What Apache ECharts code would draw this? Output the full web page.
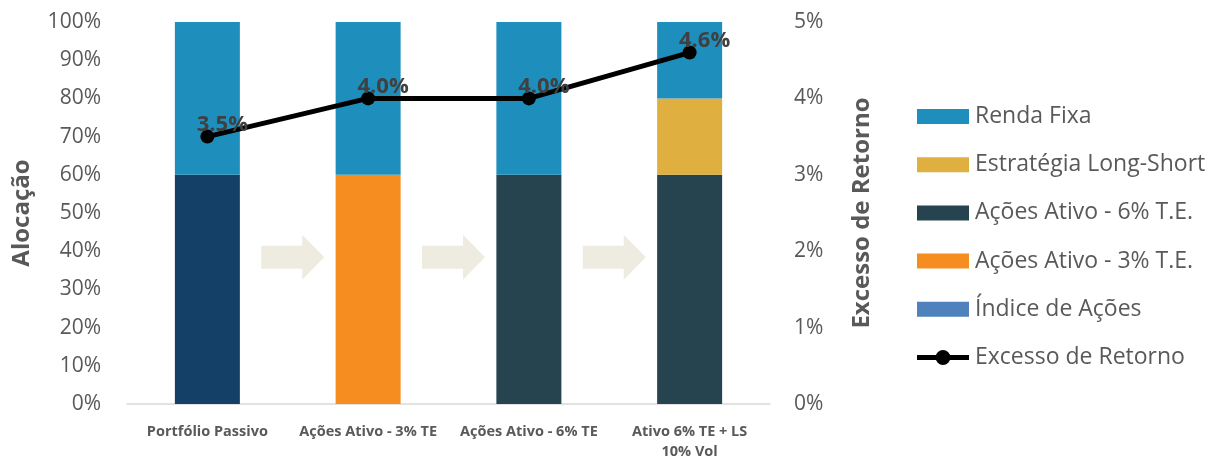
<!DOCTYPE html>
<html>
<head>
<meta charset="utf-8">
<script src="https://cdn.jsdelivr.net/npm/echarts@6/dist/echarts.min.js"></script>
<style>
html,body{margin:0;padding:0;background:#fff;}
#c{width:1214px;height:456px;}
</style>
</head>
<body>
<div id="c"></div>
<script>
const categories = ['Portfólio Passivo', 'Ações Ativo - 3% TE', 'Ações Ativo - 6% TE', 'Ativo 6% TE + LS\n10% Vol'];
const indiceAcoes = [60, 0, 0, 0];
const acoesAtivo3 = [0, 60, 0, 0];
const acoesAtivo6 = [0, 0, 60, 60];
const longShort = [0, 0, 0, 20];
const rendaFixa = [40, 40, 40, 20];
const excessoRetorno = [3.5, 4.0, 4.0, 4.6];
const leftTicks = [0, 10, 20, 30, 40, 50, 60, 70, 80, 90, 100];
const rightTicks = [0, 1, 2, 3, 4, 5];

const FONT = '"Open Sans", "Noto Sans", sans-serif';
const GREY = '#595959';

const chart = echarts.init(document.getElementById('c'));

function barSeries(name, data, color, overrideColor) {
  return {
    name: name,
    type: 'bar',
    stack: 'a',
    barWidth: 65,
    data: data.map(v => overrideColor ? {value: v, itemStyle: {color: overrideColor}} : v),
    itemStyle: {color: color},
    yAxisIndex: 0,
    z: 2
  };
}

const lineIcon = 'path://M0,5 L52,5 L52,10 L0,10 Z M18.5,7.5 A7.5,7.5 0 1,1 33.5,7.5 A7.5,7.5 0 1,1 18.5,7.5 Z';

const option = {
  animation: false,
  backgroundColor: '#fff',
  textStyle: {fontFamily: FONT},
  grid: {left: 127, right: 444, top: 22, bottom: 52, containLabel: false, outerBoundsMode: 'none'},
  xAxis: {
    type: 'category',
    data: categories,
    axisLine: {show: true, lineStyle: {color: '#d9d9d9', width: 1.5}},
    axisTick: {show: false},
    axisLabel: {
      interval: 0, margin: 18, color: GREY, fontWeight: 'bold', fontSize: 14.5,
      fontFamily: FONT, lineHeight: 20
    }
  },
  yAxis: [
    {
      type: 'value', min: 0, max: 100, interval: 10,
      name: 'Alocação', nameLocation: 'middle', nameGap: 93,
      nameTextStyle: {color: GREY, fontSize: 24, fontWeight: 'bold', fontFamily: FONT},
      axisLine: {show: false}, axisTick: {show: false}, splitLine: {show: false},
      axisLabel: {color: GREY, fontSize: 21, margin: 26, fontFamily: FONT, formatter: v => v + '%'}
    },
    {
      type: 'value', min: 0, max: 5, interval: 1, position: 'right',
      name: 'Excesso de Retorno', nameLocation: 'middle', nameGap: 80, nameRotate: 90,
      nameTextStyle: {color: GREY, fontSize: 24, fontWeight: 'bold', fontFamily: FONT},
      axisLine: {show: false}, axisTick: {show: false}, splitLine: {show: false},
      axisLabel: {color: GREY, fontSize: 21, margin: 24, fontFamily: FONT, formatter: v => v + '%'}
    }
  ],
  legend: {
    orient: 'vertical', left: 917, top: 105, padding: 0,
    itemWidth: 52, itemHeight: 15, itemGap: 25.2,
    textStyle: {color: GREY, fontSize: 23, fontFamily: FONT, padding: [0,0,0,1]},
    data: [
      {name: 'Renda Fixa', icon: 'rect'},
      {name: 'Estratégia Long-Short', icon: 'rect'},
      {name: 'Ações Ativo - 6% T.E.', icon: 'rect'},
      {name: 'Ações Ativo - 3% T.E.', icon: 'rect'},
      {name: 'Índice de Ações', icon: 'rect'},
      {name: 'Excesso de Retorno', icon: lineIcon}
    ]
  },
  series: [
    barSeries('Índice de Ações', indiceAcoes, '#4f81bd', '#143f66'),
    barSeries('Ações Ativo - 3% T.E.', acoesAtivo3, '#f68d20'),
    barSeries('Ações Ativo - 6% T.E.', acoesAtivo6, '#264350'),
    barSeries('Estratégia Long-Short', longShort, '#dfb040'),
    barSeries('Renda Fixa', rendaFixa, '#1e8fbd'),
    {
      name: 'arrows',
      type: 'custom',
      yAxisIndex: 0,
      silent: true,
      z: 1,
      data: [[0, 38.4], [1, 38.4], [2, 38.4]],
      renderItem: function (params, api) {
        const a = api.coord([api.value(0), api.value(1)]);
        const b = api.coord([api.value(0) + 1, api.value(1)]);
        const cx = (a[0] + b[0]) / 2 + 5;
        const cy = a[1];
        const w = 63, sh = 23, hh = 45, hl = 22;
        const x0 = cx - w / 2, x1 = cx + w / 2, xh = x1 - hl;
        return {
          type: 'polygon',
          shape: {points: [
            [x0, cy - sh / 2], [xh, cy - sh / 2], [xh, cy - hh / 2], [x1, cy],
            [xh, cy + hh / 2], [xh, cy + sh / 2], [x0, cy + sh / 2]
          ]},
          style: {fill: '#eeece1'}
        };
      }
    },
    {
      name: 'Excesso de Retorno',
      type: 'line',
      yAxisIndex: 1,
      data: excessoRetorno,
      symbol: 'circle',
      symbolSize: 14,
      z: 5,
      itemStyle: {color: '#000'},
      lineStyle: {color: '#000', width: 5},
      label: {
        show: true, position: 'top', offset: [15, 11],
        color: '#404040', fontSize: 22, fontWeight: 'bold', fontFamily: FONT,
        formatter: p => p.value.toFixed(1) + '%'
      }
    }
  ]
};
chart.setOption(option);
</script>
</body>
</html>
